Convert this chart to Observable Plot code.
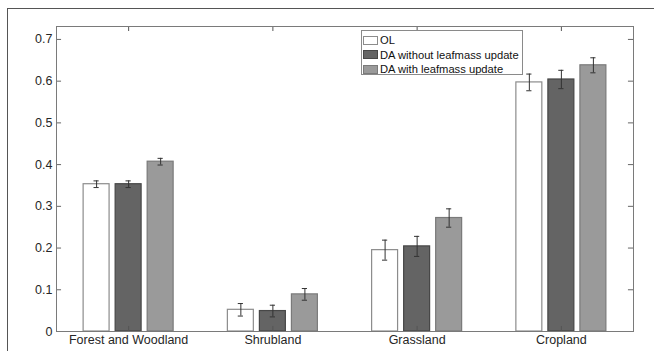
<!DOCTYPE html>
<html>
<head>
<meta charset="utf-8">
<script src="https://cdn.jsdelivr.net/npm/d3@7"></script>
<script src="https://cdn.jsdelivr.net/npm/@observablehq/plot@0.6"></script>
<style>
  body { margin: 0; background: #fff; }
  #wrap { position: relative; width: 654px; height: 351px; overflow: hidden; font-family: "Liberation Sans", Arial, sans-serif; }
  #outer { position: absolute; left: 7px; top: 8px; width: 700px; height: 400px; border-top: 1px solid #555; border-left: 1px solid #555; pointer-events: none; }
  #legend { position: absolute; left: 361px; top: 30px; width: 160px; height: 43px; border: 1px solid #8a8a8a; background: #fff; font-size: 11.2px; color: #111; }
  .row { position: absolute; left: 1px; height: 12px; display: flex; align-items: center; white-space: nowrap; }
  .sw { width: 15px; height: 9px; margin-right: 2px; box-sizing: border-box; border: 1px solid #888; flex: none; }
</style>
</head>
<body>
<div id="wrap">
  <div id="chart"></div>
  <div id="outer"></div>
  <div id="legend"></div>
</div>
<script>
const categories = ["Forest and Woodland", "Shrubland", "Grassland", "Cropland"];
const seriesNames = ["OL", "DA without leafmass update", "DA with leafmass update"];
const olValues = [0.353, 0.052, 0.195, 0.597];
const olErrors = [0.008, 0.015, 0.024, 0.020];
const daNoValues = [0.353, 0.049, 0.204, 0.604];
const daNoErrors = [0.008, 0.014, 0.024, 0.022];
const daWithValues = [0.407, 0.089, 0.272, 0.638];
const daWithErrors = [0.008, 0.014, 0.022, 0.018];
const yTicks = [0, 0.1, 0.2, 0.3, 0.4, 0.5, 0.6, 0.7];

const fills = ["#ffffff", "#646464", "#9a9a9a"];
const strokes = ["#8c8c8c", "#474747", "#7a7a7a"];
const valueSets = [olValues, daNoValues, daWithValues];
const errorSets = [olErrors, daNoErrors, daWithErrors];

const offset = 0.222, barW = 0.18, capW = 0.018;
const data = [];
seriesNames.forEach((s, si) => {
  categories.forEach((c, ci) => {
    data.push({
      series: s, si, cat: c,
      x: ci + 1 + (si - 1) * offset,
      v: valueSets[si][ci],
      e: errorSets[si][ci]
    });
  });
});

const yMax = 0.731;
const xTickPos = categories.map((c, i) => i + 1);
const tLenX = 0.035, tLenY = 0.012;

const chart = Plot.plot({
  width: 654,
  height: 351,
  marginLeft: 56,
  marginRight: 21,
  marginTop: 26,
  marginBottom: 20,
  style: { fontFamily: "'Liberation Sans', Arial, sans-serif", fontSize: "12.5px", color: "#262626", background: "#fff" },
  x: { domain: [0.5, 4.5], axis: null },
  y: { domain: [0, yMax], axis: null },
  marks: [
    Plot.rectY(data, {
      x1: d => d.x - barW / 2, x2: d => d.x + barW / 2,
      y1: 0, y2: d => d.v,
      fill: d => fills[d.si], stroke: d => strokes[d.si], strokeWidth: 1.2
    }),
    Plot.ruleX(data, { x: "x", y1: d => d.v - d.e, y2: d => d.v + d.e, stroke: "#333", strokeWidth: 1 }),
    Plot.ruleY(data, { y: d => d.v + d.e, x1: d => d.x - capW, x2: d => d.x + capW, stroke: "#333", strokeWidth: 1 }),
    Plot.ruleY(data, { y: d => d.v - d.e, x1: d => d.x - capW, x2: d => d.x + capW, stroke: "#333", strokeWidth: 1 }),
    // inside ticks
    Plot.ruleX(xTickPos, { x: d => d, y1: 0, y2: tLenY, stroke: "#555" }),
    Plot.ruleX(xTickPos, { x: d => d, y1: yMax - tLenY, y2: yMax, stroke: "#555" }),
    Plot.ruleY(yTicks, { y: d => d, x1: 0.5, x2: 0.5 + tLenX, stroke: "#666" }),
    Plot.ruleY(yTicks, { y: d => d, x1: 4.5 - tLenX, x2: 4.5, stroke: "#666" }),
    Plot.frame({ stroke: "#7a7a7a" }),
    Plot.axisY(yTicks, { tickSize: 0, tickPadding: 4, label: null, tickFormat: d => d === 0 ? "0" : d3.format(".1f")(d), fill: "#262626" }),
    Plot.axisX(xTickPos, { tickSize: 0, tickPadding: 4, label: null, tickFormat: d => categories[d - 1], fill: "#262626" })
  ]
});
document.getElementById("chart").appendChild(chart);

const legend = document.getElementById("legend");
seriesNames.forEach((s, i) => {
  const row = document.createElement("div");
  row.className = "row";
  row.style.top = (3 + i * 14.5) + "px";
  const sw = document.createElement("div");
  sw.className = "sw";
  sw.style.background = fills[i];
  sw.style.borderColor = strokes[i];
  const t = document.createElement("span");
  t.textContent = s;
  row.appendChild(sw);
  row.appendChild(t);
  legend.appendChild(row);
});
</script>
</body>
</html>
